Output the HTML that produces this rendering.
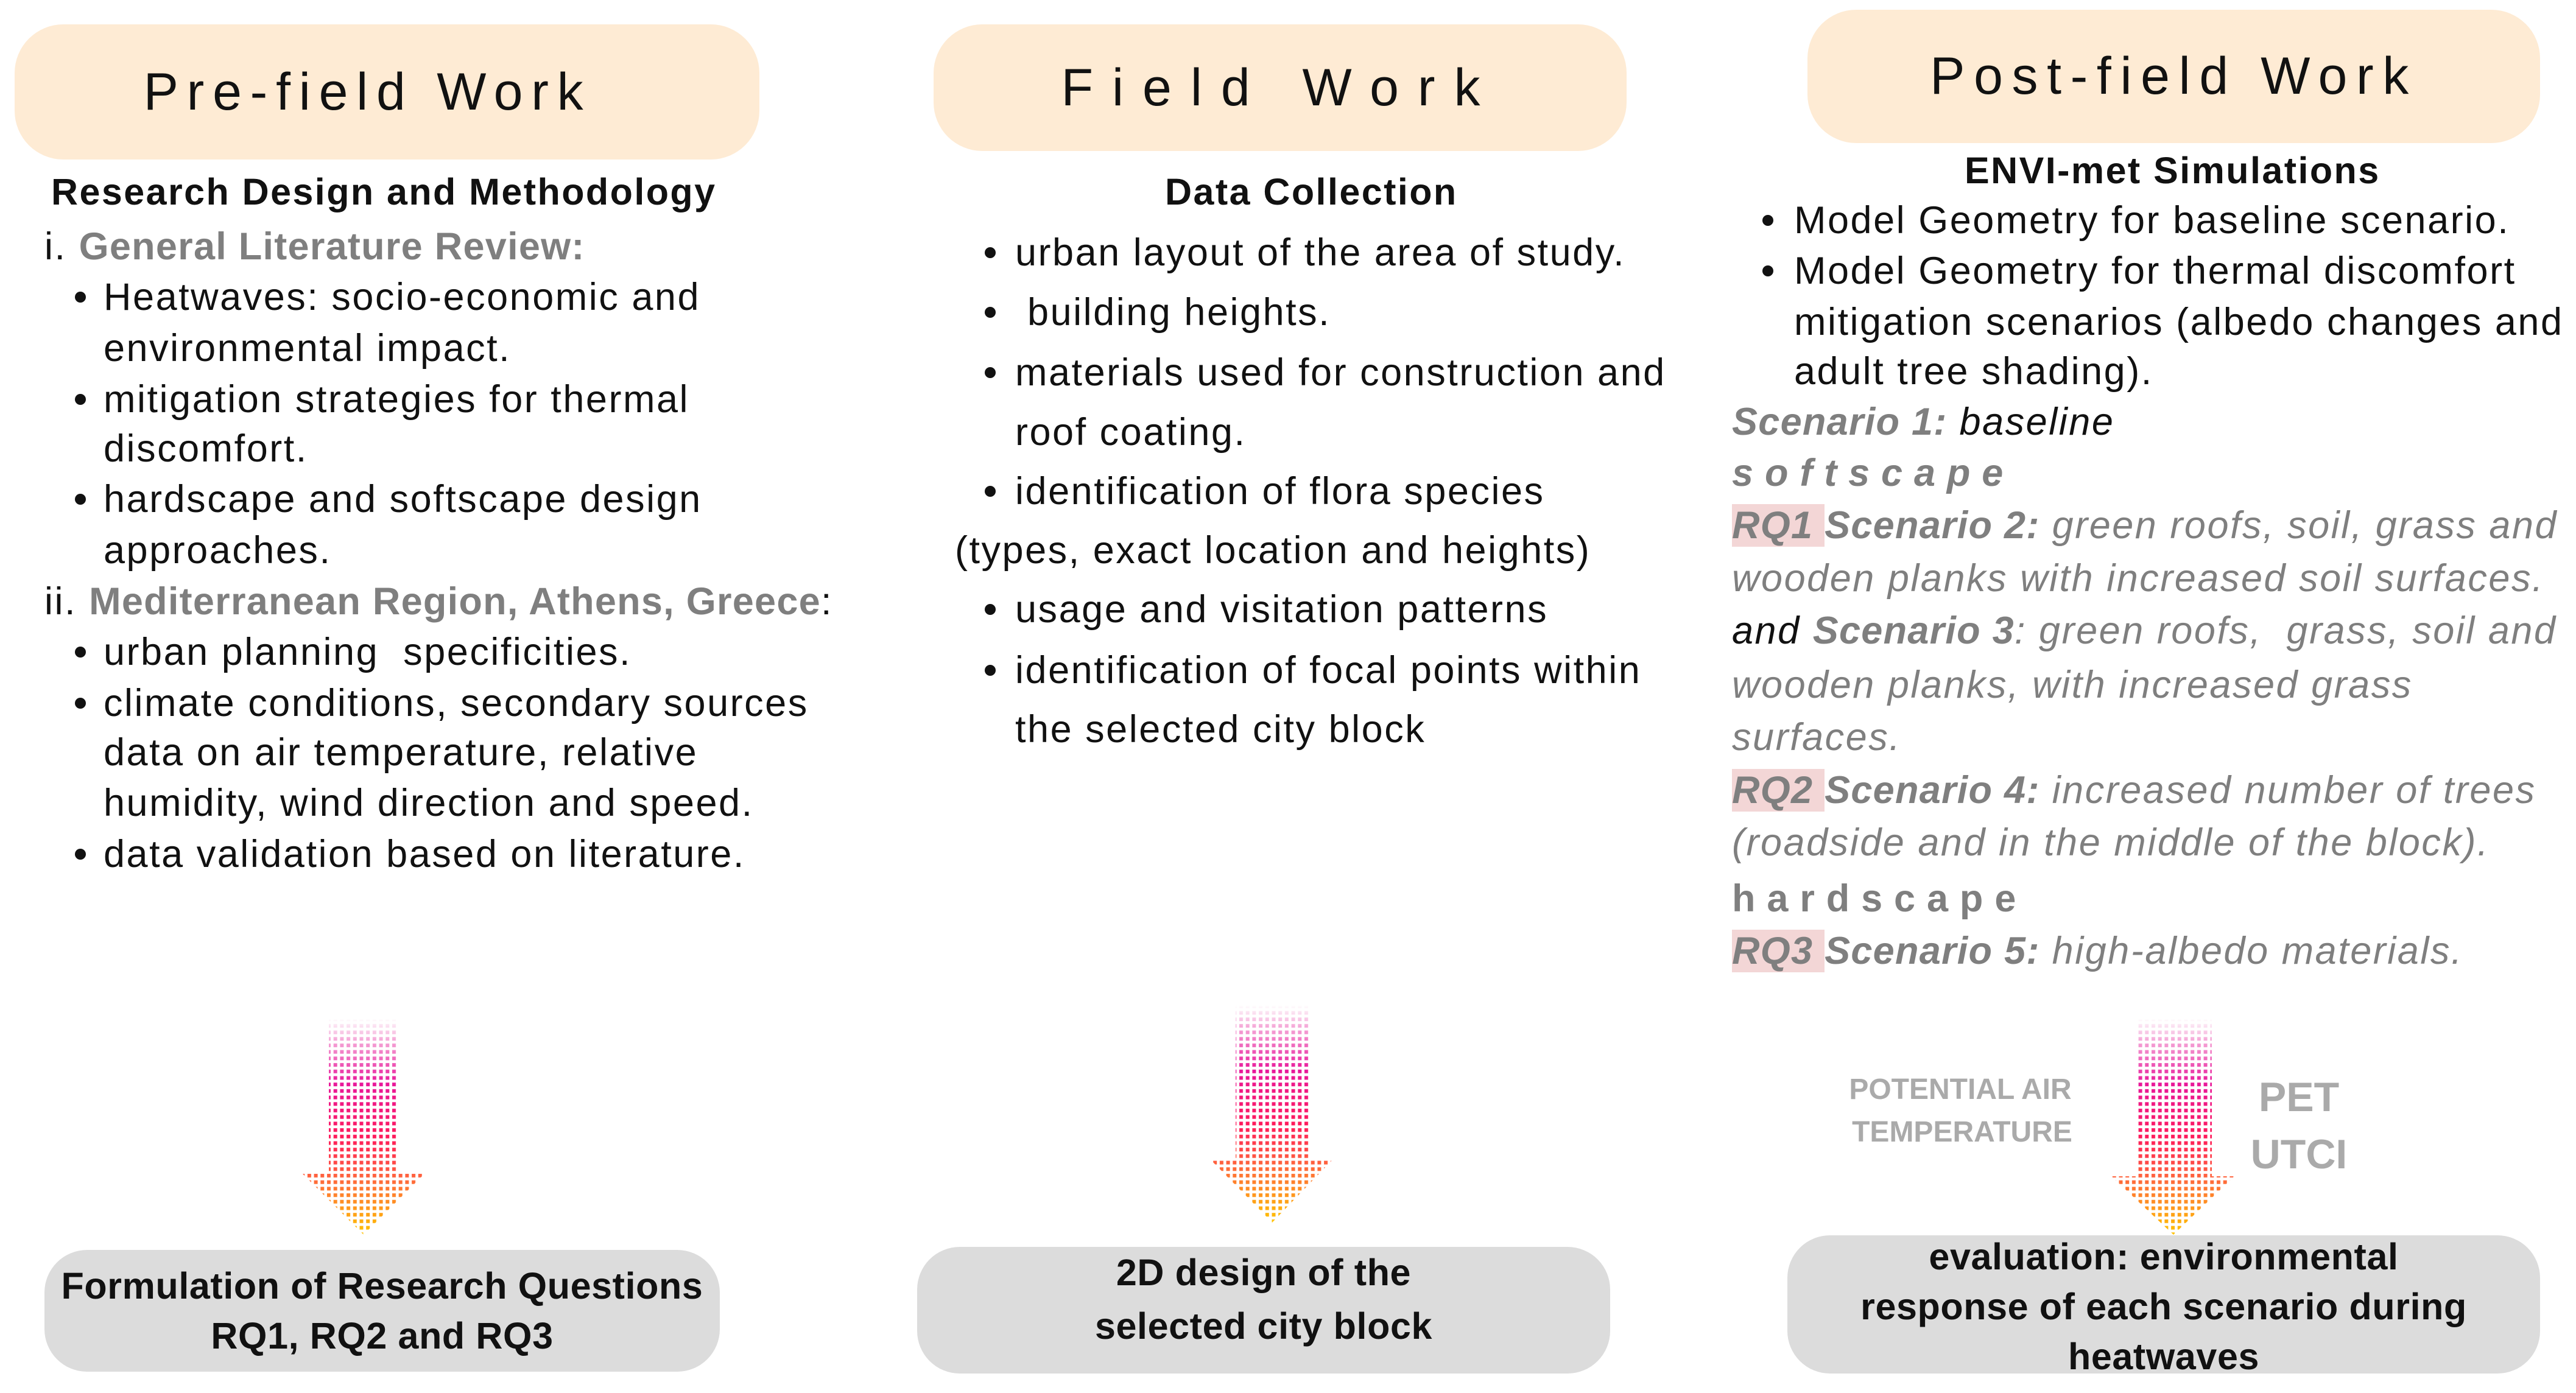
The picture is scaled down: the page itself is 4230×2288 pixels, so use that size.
<!DOCTYPE html>
<html><head><meta charset="utf-8"><style>
body{margin:0;width:4230px;height:2288px;background:#fff;position:relative;overflow:hidden;font-family:"Liberation Sans",sans-serif;color:#111}
.b{position:absolute}
.t{position:absolute;white-space:nowrap;line-height:1}
.hdr{position:absolute;background:#feebd4;border-radius:80px;display:flex;align-items:center;justify-content:center;font-size:86px;color:#111}
.box{position:absolute;background:#dcdcdc;border-radius:70px;display:flex;align-items:center;justify-content:center;text-align:center;font-weight:bold;font-size:61px;line-height:82px;letter-spacing:0.01em}
.g{color:#7f7f7f}
.s{font-size:63px;letter-spacing:0.04em}
.s b{letter-spacing:0.02em}
.h{font-size:61px;font-weight:bold;letter-spacing:0.04em}
.dot{position:absolute;width:18px;height:18px;border-radius:50%;background:#111}
.hl{background:#f3d6d6}
i{font-style:italic}
</style></head><body>
<div class="hdr" style="left:24px;top:40px;width:1223px;height:222px;letter-spacing:0.16em;box-sizing:border-box;padding-right:64px">Pre-field Work</div>
<div class="hdr" style="left:1533px;top:40px;width:1138px;height:208px;letter-spacing:0.36em">Field Work</div>
<div class="hdr" style="left:2968px;top:16px;width:1203px;height:219px;letter-spacing:0.17em">Post-field Work</div>

<!-- left column -->
<div class="t h" style="left:84px;top:285px">Research Design and Methodology</div>
<div class="t s" style="left:73px;top:374px">i. <b class="g">General Literature Review:</b></div>
<div class="dot" style="left:123px;top:479px"></div><div class="t s" style="left:170px;top:457px">Heatwaves: socio-economic and</div>
<div class="t s" style="left:170px;top:541px">environmental impact.</div>
<div class="dot" style="left:123px;top:647px"></div><div class="t s" style="left:170px;top:625px">mitigation strategies for thermal</div>
<div class="t s" style="left:170px;top:706px">discomfort.</div>
<div class="dot" style="left:123px;top:811px"></div><div class="t s" style="left:170px;top:789px">hardscape and softscape design</div>
<div class="t s" style="left:170px;top:873px">approaches.</div>
<div class="t s" style="left:73px;top:957px">ii. <b class="g">Mediterranean Region, Athens, Greece</b>:</div>
<div class="dot" style="left:123px;top:1062px"></div><div class="t s" style="left:170px;top:1040px">urban planning &nbsp;specificities.</div>
<div class="dot" style="left:123px;top:1146px"></div><div class="t s" style="left:170px;top:1124px">climate conditions, secondary sources</div>
<div class="t s" style="left:170px;top:1205px">data on air temperature, relative</div>
<div class="t s" style="left:170px;top:1288px">humidity, wind direction and speed.</div>
<div class="dot" style="left:123px;top:1394px"></div><div class="t s" style="left:170px;top:1372px">data validation based on literature.</div>

<!-- middle column -->
<div class="t h" style="left:1913px;top:285px">Data Collection</div>
<div class="dot" style="left:1617px;top:406px"></div><div class="t s" style="left:1667px;top:384px">urban layout of the area of study.</div>
<div class="dot" style="left:1617px;top:504px"></div><div class="t s" style="left:1667px;top:482px">&nbsp;building heights.</div>
<div class="dot" style="left:1617px;top:603px"></div><div class="t s" style="left:1667px;top:581px">materials used for construction and</div>
<div class="t s" style="left:1667px;top:679px">roof coating.</div>
<div class="dot" style="left:1617px;top:798px"></div><div class="t s" style="left:1667px;top:776px">identification of flora species</div>
<div class="t s" style="left:1568px;top:873px">(types, exact location and heights)</div>
<div class="dot" style="left:1617px;top:992px"></div><div class="t s" style="left:1667px;top:970px">usage and visitation patterns</div>
<div class="dot" style="left:1617px;top:1092px"></div><div class="t s" style="left:1667px;top:1070px">identification of focal points within</div>
<div class="t s" style="left:1667px;top:1167px">the selected city block</div>

<!-- right column -->
<div class="t h" style="left:3226px;top:250px">ENVI-met Simulations</div>
<div class="dot" style="left:2894px;top:353px"></div><div class="t s" style="left:2946px;top:331px">Model Geometry for baseline scenario.</div>
<div class="dot" style="left:2894px;top:436px"></div><div class="t s" style="left:2946px;top:414px">Model Geometry for thermal discomfort</div>
<div class="t s" style="left:2946px;top:498px">mitigation scenarios (albedo changes and</div>
<div class="t s" style="left:2946px;top:579px">adult tree shading).</div>
<div class="t s" style="left:2844px;top:662px"><i><b class="g">Scenario 1:</b> baseline</i></div>
<div class="t s g" style="left:2844px;top:746px;font-weight:bold;font-style:italic;letter-spacing:0.3em">softscape</div>
<div class="t s g" style="left:2844px;top:832px;font-style:italic"><b class="hl">RQ1 </b><b>Scenario 2:</b> green roofs, soil, grass and</div>
<div class="t s g" style="left:2844px;top:919px;font-style:italic">wooden planks with increased soil surfaces.</div>
<div class="t s g" style="left:2844px;top:1005px;font-style:italic"><span style="color:#111">and</span> <b>Scenario 3</b>: green roofs, &nbsp;grass, soil and</div>
<div class="t s g" style="left:2844px;top:1094px;font-style:italic">wooden planks, with increased grass</div>
<div class="t s g" style="left:2844px;top:1180px;font-style:italic">surfaces.</div>
<div class="t s g" style="left:2844px;top:1267px;font-style:italic"><b class="hl">RQ2 </b><b>Scenario 4:</b> increased number of trees</div>
<div class="t s g" style="left:2844px;top:1353px;font-style:italic">(roadside and in the middle of the block).</div>
<div class="t s g" style="left:2844px;top:1445px;font-weight:bold;letter-spacing:0.3em">hardscape</div>
<div class="t s g" style="left:2844px;top:1531px;font-style:italic"><b class="hl">RQ3 </b><b>Scenario 5:</b> high-albedo materials.</div>

<!-- arrows -->
<svg class="b" style="left:0;top:0" width="4230" height="2288">
<defs>
<linearGradient id="gr" x1="0" y1="0" x2="0" y2="1">
<stop offset="0" stop-color="#ffffff"/><stop offset="0.1" stop-color="#f5a8d8"/><stop offset="0.3" stop-color="#e8179a"/><stop offset="0.55" stop-color="#ff1a5a"/><stop offset="0.75" stop-color="#ff6a3a"/><stop offset="1" stop-color="#ffc400"/>
</linearGradient>
<pattern id="pd" width="10.7" height="10.7" patternUnits="userSpaceOnUse"><rect x="2" y="2" width="6" height="6" fill="#fff"/></pattern>
<mask id="m"><rect width="4230" height="2288" fill="url(#pd)"/></mask>
</defs>
<g mask="url(#m)">
<polygon points="540,1673 653,1673 653,1928 697,1928 597,2028 497,1928 540,1928" fill="url(#gr)"/>
<polygon points="2029,1651 2150,1651 2150,1905 2188,1905 2089,2008 1988,1905 2029,1905" fill="url(#gr)"/>
<polygon points="3510,1673 3632,1673 3632,1932 3669,1932 3569,2028 3467,1932 3510,1932" fill="url(#gr)"/>
</g>
</svg>

<div class="t" style="left:3219px;top:1766px;transform:translateX(-50%);font-size:48px;font-weight:bold;color:#aaa">POTENTIAL AIR</div>
<div class="t" style="left:3222px;top:1836px;transform:translateX(-50%);font-size:48px;font-weight:bold;color:#aaa">TEMPERATURE</div>
<div class="t" style="left:3775px;top:1768px;transform:translateX(-50%);font-size:68px;font-weight:bold;color:#aaa">PET</div>
<div class="t" style="left:3775px;top:1862px;transform:translateX(-50%);font-size:68px;font-weight:bold;color:#aaa">UTCI</div>

<div class="box" style="left:73px;top:2053px;width:1109px;height:200px">Formulation of Research Questions<br>RQ1, RQ2 and RQ3</div>
<div class="box" style="left:1506px;top:2048px;width:1138px;height:208px;align-items:flex-start"><div style="margin-top:-2px;line-height:88px">2D design of the<br>selected city block</div></div>
<div class="box" style="left:2935px;top:2029px;width:1236px;height:227px;align-items:flex-start"><div style="margin-top:-6px">evaluation: environmental<br>response of each scenario during<br>heatwaves</div></div>
</body></html>
